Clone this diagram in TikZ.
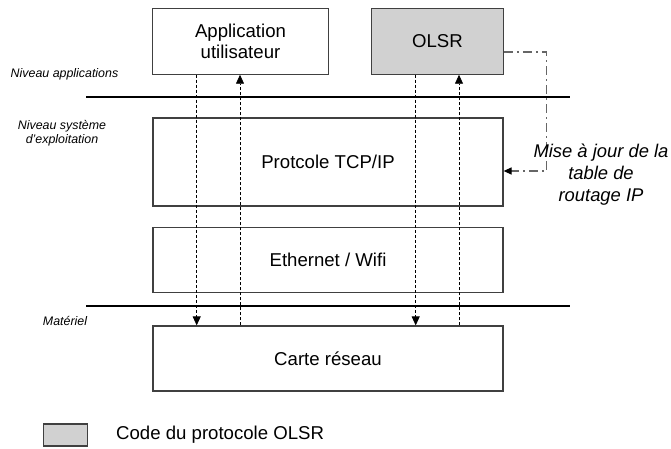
\documentclass[tikz,border=0pt]{standalone}
\usepackage{fontspec}
\setmainfont{Liberation Sans}
\usetikzlibrary{arrows.meta}
\begin{document}
\begin{tikzpicture}[x=1pt,y=-1pt,
  layer/.style={draw=black!75,line width=1.2pt,inner sep=0pt,
    font=\fontsize{18.6}{21.5}\selectfont,align=center},
  level/.style={font=\itshape\fontsize{12.4}{14}\selectfont,align=center},
  sep/.style={line width=1.6pt},
  flow/.style={line width=0.8pt,dash pattern=on 3pt off 2pt,
    -{Triangle[length=9pt,width=8pt]}},
  update/.style={draw=black!60,line width=1.2pt,
    dash pattern=on 9pt off 4pt on 2pt off 4pt,
    -{Triangle[length=8pt,width=7pt,fill=black,color=black]}}]
\useasboundingbox (0,0) rectangle (671,449);

% Boxes of the protocol stack
\node[layer,minimum width=175.5pt,minimum height=65.7pt] (app) at (240.5,41.3)
  {Application\\utilisateur};
\node[layer,fill=black!18,minimum width=131.5pt,minimum height=65.7pt] (olsr) at (437.5,41.3)
  {OLSR};
\node[layer,minimum width=350pt,minimum height=88pt] (tcp) at (328,162)
  {Protcole TCP/IP};
\node[layer,minimum width=350pt,minimum height=65.7pt] (eth) at (328,260)
  {Ethernet / Wifi};
\node[layer,minimum width=350pt,minimum height=65pt] (card) at (328,358.5)
  {Carte réseau};

% Level separators
\coordinate (s1a) at (86,97);
\coordinate (s1b) at (570,97);
\coordinate (s2a) at (86,306);
\coordinate (s2b) at (570,306);
\draw[sep] (s1a) -- (s1b);
\draw[sep] (s2a) -- (s2b);

% Level labels
\node[level] (lapp) at (64.5,74) {Niveau applications};
\node[level] (los) at (62,133.5) {Niveau système\\d'exploitation};
\node[level] (lhw) at (65,321) {Matériel};

% Data paths down to the card and back up
\coordinate (xa) at (196.7,0);
\coordinate (xb) at (240,0);
\coordinate (xc) at (415.7,0);
\coordinate (xd) at (459,0);
\draw[flow] (app.south -| xa) -- (card.north -| xa);
\draw[flow] (card.north -| xb) -- (app.south -| xb);
\draw[flow] (olsr.south -| xc) -- (card.north -| xc);
\draw[flow] (card.north -| xd) -- (olsr.south -| xd);

% Routing table update
\coordinate (r1) at (546.7,52);
\coordinate (r2) at (546.7,171);
\draw[update] (olsr.east |- r1) -- (r1) -- (r2) -- (tcp.east |- r2);
\node[font=\itshape\fontsize{18.4}{22}\selectfont,align=center] (upd) at (601,175)
  {Mise à jour de la\\table de\\routage IP};

% Legend
\node[draw=black!75,line width=1.2pt,fill=black!18,minimum width=44pt,
  minimum height=22pt,inner sep=0pt] (key) at (65.5,435) {};
\node[anchor=west,font=\fontsize{18.6}{21}\selectfont,inner sep=0pt] (keytext) at (116,435)
  {Code du protocole OLSR};
\end{tikzpicture}
\end{document}
